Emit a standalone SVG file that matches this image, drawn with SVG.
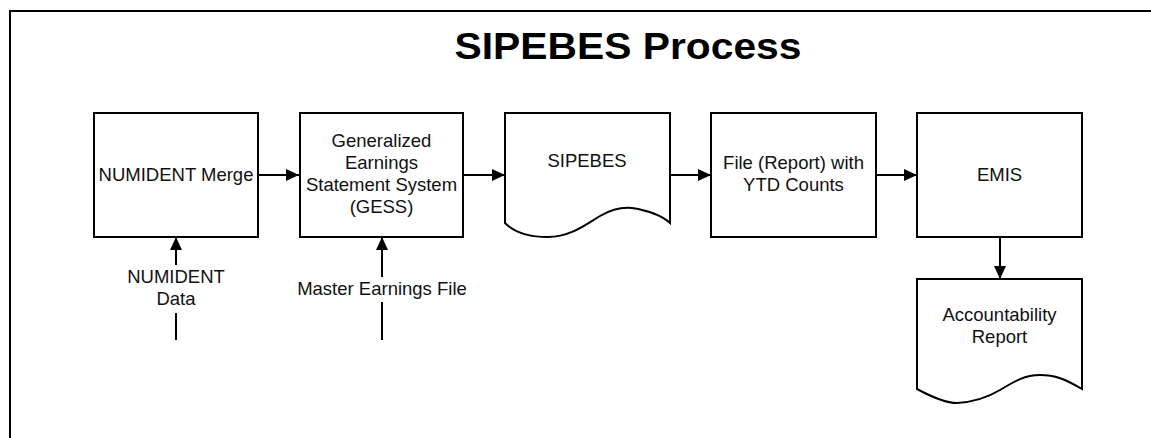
<svg xmlns="http://www.w3.org/2000/svg" width="1151" height="438" viewBox="0 0 1151 438">
<style>
.frame{fill:none;stroke:#000;stroke-width:2}
.box{fill:#fff;stroke:#000;stroke-width:2}
.conn{fill:none;stroke:#000;stroke-width:2}
text{font-family:"Liberation Sans",Arial,sans-serif;fill:#111;}
.lbl{font-size:18.5px;text-anchor:middle}
.title{font-size:37px;font-weight:bold;text-anchor:middle;fill:#000}
</style>
<defs>
<marker id="ah" markerUnits="userSpaceOnUse" markerWidth="14" markerHeight="13" refX="13" refY="6" orient="auto">
<path d="M0,0 L13,6 L0,12 z" fill="#000"/>
</marker>
</defs>
<rect width="1151" height="438" fill="#fff"/>
<rect class="frame" x="10" y="11" width="1160" height="450"/>
<text class="title" x="628" y="59" textLength="347" lengthAdjust="spacingAndGlyphs">SIPEBES Process</text>

<g id="connectors">
<line class="conn" x1="258" y1="175" x2="299" y2="175" marker-end="url(#ah)"/>
<line class="conn" x1="463" y1="175" x2="505" y2="175" marker-end="url(#ah)"/>
<line class="conn" x1="670" y1="175" x2="711" y2="175" marker-end="url(#ah)"/>
<line class="conn" x1="876" y1="175" x2="917" y2="175" marker-end="url(#ah)"/>
<line class="conn" x1="1000" y1="237" x2="1000" y2="279" marker-end="url(#ah)"/>
<line class="conn" x1="176" y1="340" x2="176" y2="313"/>
<line class="conn" x1="176" y1="265" x2="176" y2="237" marker-end="url(#ah)"/>
<line class="conn" x1="382" y1="340" x2="382" y2="302"/>
<line class="conn" x1="382" y1="277" x2="382" y2="237" marker-end="url(#ah)"/>
</g>

<g id="numident-merge">
<rect class="box" x="94" y="113" width="164" height="124"/>
<text class="lbl" x="176" y="181">NUMIDENT Merge</text>
</g>

<g id="gess">
<rect class="box" x="300" y="113" width="163" height="124"/>
<text class="lbl" x="381.5" y="147">Generalized</text>
<text class="lbl" x="381.5" y="169">Earnings</text>
<text class="lbl" x="381.5" y="191">Statement System</text>
<text class="lbl" x="381.5" y="213">(GESS)</text>
</g>

<g id="sipebes">
<path class="box" d="M505,113 H670 V223 C660,214 645,210 632,208 C622,207 612,209 600,216 C585,225 570,237 548,237 C530,237 515,233 505,223 Z"/>
<text class="lbl" x="587" y="167">SIPEBES</text>
</g>

<g id="ytd-file">
<rect class="box" x="711" y="113" width="165" height="124"/>
<text class="lbl" x="793.5" y="169">File (Report) with</text>
<text class="lbl" x="793.5" y="191">YTD Counts</text>
</g>

<g id="emis">
<rect class="box" x="917" y="113" width="165" height="124"/>
<text class="lbl" x="999.5" y="181">EMIS</text>
</g>

<g id="accountability-report">
<path class="box" d="M917,279 H1082 V389 C1065,379 1055,375 1040,375 C1025,375 1015,381 1000,390 C990,396 975,402 957,403 C945,403 930,396 917,389 Z"/>
<text class="lbl" x="999.5" y="321">Accountability</text>
<text class="lbl" x="999.5" y="343">Report</text>
</g>

<g id="numident-data">
<text class="lbl" x="176" y="283">NUMIDENT</text>
<text class="lbl" x="176" y="305">Data</text>
</g>

<g id="master-earnings-file">
<text class="lbl" x="382" y="295">Master Earnings File</text>
</g>
</svg>
